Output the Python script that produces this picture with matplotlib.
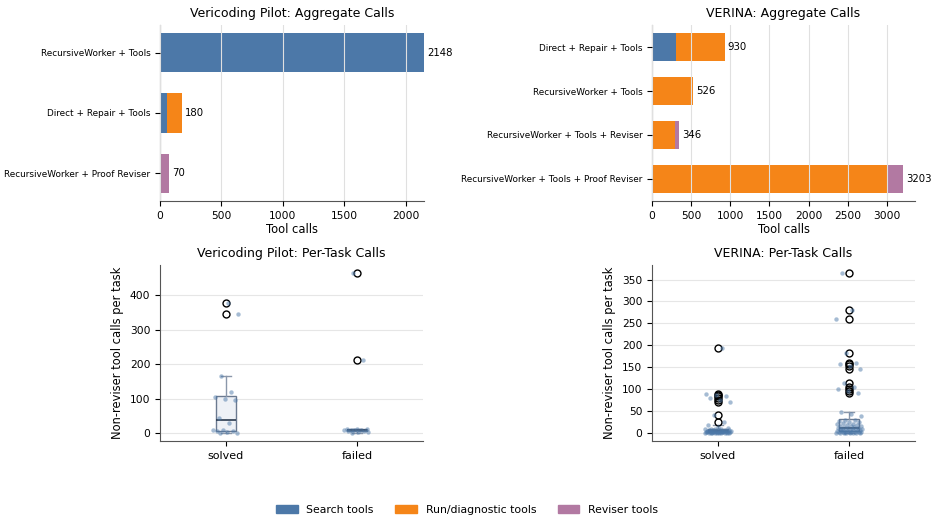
import numpy as np
import matplotlib.pyplot as plt
from matplotlib.patches import Patch
from matplotlib.ticker import MultipleLocator

# aggregate calls (search, run/diagnostic, reviser)
veri_methods = ["RecursiveWorker + Tools", "Direct + Repair + Tools", "RecursiveWorker + Proof Reviser"]
veri_search = [2148, 55, 0]
veri_run = [0, 125, 0]
veri_reviser = [0, 0, 70]

verina_methods = ["Direct + Repair + Tools", "RecursiveWorker + Tools",
                  "RecursiveWorker + Tools + Reviser", "RecursiveWorker + Tools + Proof Reviser"]
verina_search = [310, 0, 0, 0]
verina_run = [620, 526, 290, 3000]
verina_reviser = [0, 0, 56, 203]

# per-task non-reviser calls
veri_solved = [0, 0, 2, 5, 6, 8, 8, 30, 45, 95, 100, 104, 118, 165, 347, 378]
veri_failed = [0, 2, 3, 5, 6, 8, 8, 9, 10, 11, 12, 12, 213, 465]

verina_solved = [0, 0, 0, 0, 0, 1, 1, 1, 1, 1, 1, 2, 2, 2, 2, 2, 2, 2, 3, 3, 3, 3, 3, 3,
                 4, 4, 4, 4, 4, 5, 5, 5, 5, 5, 6, 6, 6, 7, 7, 8, 8, 9, 10, 11,
                 13, 18, 25, 40, 70, 75, 80, 84, 87, 90, 195]
verina_failed = [0, 0, 0, 0, 1, 1, 1, 1, 2, 2, 2, 2, 3, 3, 3, 3,
                 4, 4, 5, 5, 6, 6, 7, 7, 8, 8, 9, 9, 10, 10, 11, 12,
                 12, 13, 14, 15, 16, 17, 18, 19, 20, 21, 22, 24, 26, 28, 30, 30,
                 38, 44, 48,
                 92, 95, 100, 105, 115, 145, 152, 157, 160, 183, 260, 281, 365]

outcomes = ["solved", "failed"]

C_SEARCH = "#4c78a8"
C_RUN = "#f58518"
C_REV = "#b279a2"
GRID = "#e6e6e6"
SPINE = "#555555"

plt.rcParams["xtick.labelsize"] = 7.7
plt.rcParams["ytick.labelsize"] = 7.7


def style(ax, grid_axis):
    for s in ["top", "right"]:
        ax.spines[s].set_visible(False)
    for s in ["left", "bottom"]:
        ax.spines[s].set_color(SPINE)
    ax.grid(axis=grid_axis, color=GRID, lw=0.8)


def agg_panel(ax, title, methods, search, run, rev, xpad, step):
    y = np.arange(len(methods))
    search = np.array(search)
    run = np.array(run)
    rev = np.array(rev)
    ax.barh(y, search, height=0.65, color=C_SEARCH, zorder=1)
    ax.barh(y, run, left=search, height=0.65, color=C_RUN, zorder=1)
    ax.barh(y, rev, left=search + run, height=0.65, color=C_REV, zorder=1)
    totals = search + run + rev
    for yi, t in zip(y, totals):
        ax.text(t + totals.max() * 0.012, yi, str(t), va="center", fontsize=7.3)
    ax.set_yticks(y)
    ax.set_yticklabels(methods, fontsize=6.4)
    ax.invert_yaxis()
    ax.set_xlim(0, totals.max() * xpad)
    ax.xaxis.set_major_locator(MultipleLocator(step))
    ax.set_xlabel("Tool calls", fontsize=8.3, labelpad=2)
    ax.set_title(title, fontsize=9)
    style(ax, "x")
    ax.set_axisbelow(False)
    for gl in ax.get_xgridlines():
        gl.set_zorder(2)
        gl.set_color("#e0e0e0")


def box_panel(ax, title, groups, step):
    ax.boxplot(groups, positions=[0, 1], widths=0.15, patch_artist=True,
               boxprops=dict(facecolor="#eef1f6", edgecolor="#6b7a90", lw=1),
               medianprops=dict(color="#2b3a4f", lw=1.2),
               whiskerprops=dict(color="#8a97aa", lw=1),
               capprops=dict(color="#8a97aa", lw=1),
               flierprops=dict(marker="o", mfc="none", mec="black", ms=5, mew=1),
               zorder=2)
    for i, g in enumerate(groups):
        g = np.array(g, dtype=float)
        k = np.arange(len(g))
        offs = ((k * 0.618034 + 0.3) % 1 - 0.5) * 0.2
        ax.scatter(i + offs, g, s=10, color=C_SEARCH, alpha=0.5, lw=0, zorder=3)
    ax.set_xticks([0, 1])
    ax.set_xticklabels(outcomes, fontsize=8)
    ax.set_xlim(-0.5, 1.5)
    ax.yaxis.set_major_locator(MultipleLocator(step))
    ax.set_ylabel("Non-reviser tool calls per task", fontsize=8.3)
    ax.set_title(title, fontsize=9)
    style(ax, "y")
    ax.set_axisbelow(True)


fig = plt.figure(figsize=(9.34, 5.23), dpi=100)
W, H = 934, 523


def add_ax(x0, y0, x1, y1):
    return fig.add_axes([x0 / W, 1 - y1 / H, (x1 - x0) / W, (y1 - y0) / H])


ax1 = add_ax(160, 25, 424, 201)
ax2 = add_ax(652, 25, 915, 201)
ax3 = add_ax(160, 265, 423, 441)
ax4 = add_ax(652, 265, 915, 441)

agg_panel(ax1, "Vericoding Pilot: Aggregate Calls", veri_methods, veri_search, veri_run, veri_reviser, 1.0, 500)
agg_panel(ax2, "VERINA: Aggregate Calls", verina_methods, verina_search, verina_run, verina_reviser, 1.049, 500)
box_panel(ax3, "Vericoding Pilot: Per-Task Calls", [veri_solved, veri_failed], 100)
box_panel(ax4, "VERINA: Per-Task Calls", [verina_solved, verina_failed], 50)

handles = [Patch(color=C_SEARCH, label="Search tools"),
           Patch(color=C_RUN, label="Run/diagnostic tools"),
           Patch(color=C_REV, label="Reviser tools")]
fig.legend(handles=handles, loc="center", bbox_to_anchor=(0.5, 1 - 510 / H), ncol=3,
           frameon=False, fontsize=7.8, handlelength=2.0, columnspacing=2.0)

fig.savefig("out.png", dpi=100)
